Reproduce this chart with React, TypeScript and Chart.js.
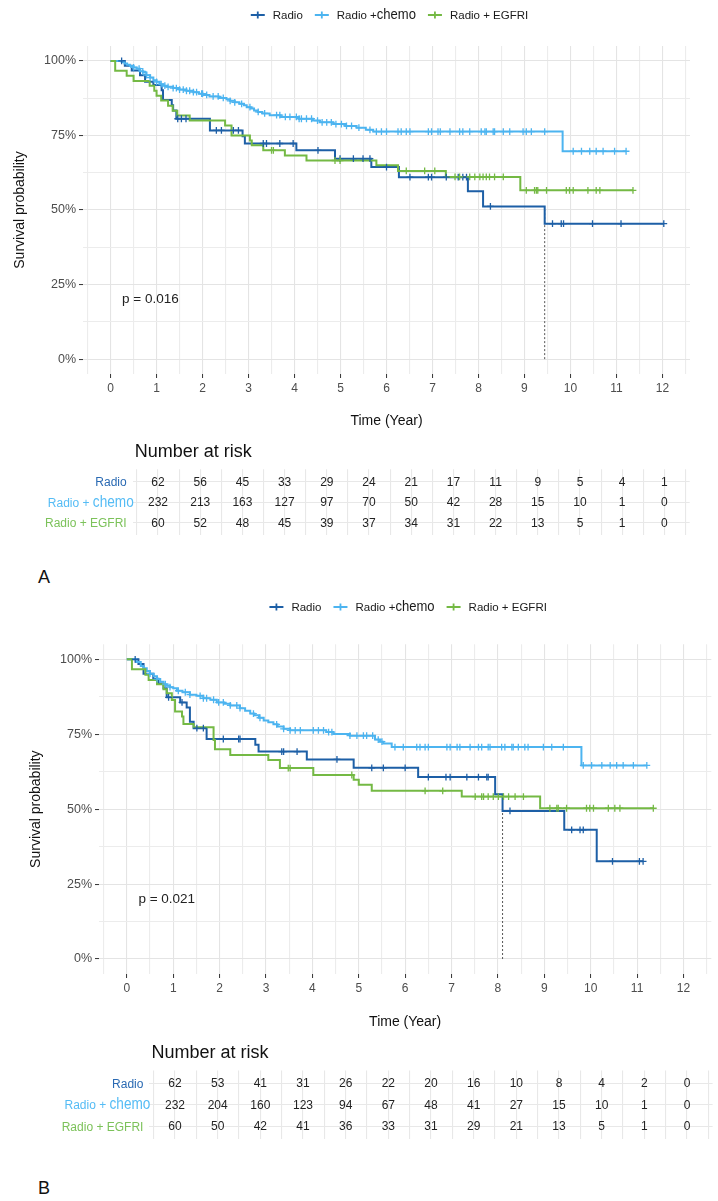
import React, { useEffect, useRef } from "react";
import { Chart, registerables } from "chart.js";
Chart.register(...registerables);

// ---------- shared labels / ticks ----------
const LEGEND_LABELS = ["Radio", "Radio +chemo", "Radio + EGFRI"];
const TABLE_LABELS = ["Radio", "Radio + chemo", "Radio + EGFRI"];
const LINE_COLORS = ["#1d5fa6", "#4cb4f0", "#74b944"];
const TEXT_COLORS = ["#2a6ab3", "#55bcf5", "#7cc25a"];
const YEAR_TICKS = [-0.5, 0, 0.5, 1, 1.5, 2, 2.5, 3, 3.5, 4, 4.5, 5, 5.5, 6, 6.5, 7, 7.5, 8, 8.5, 9, 9.5, 10, 10.5, 11, 11.5, 12, 12.5];
const SURV_TICKS = [0, 12.5, 25, 37.5, 50, 62.5, 75, 87.5, 100];
const RISK_TIMES = [0, 1, 2, 3, 4, 5, 6, 7, 8, 9, 10, 11, 12];
const ROW_INDEX = [0, 1, 2];

// ---------- panel A ----------
const A_RADIO_T = [0, 0.31, 0.46, 0.64, 0.75, 0.93, 1.11, 1.14, 1.33, 1.36, 1.43, 2.16, 2.87, 2.92, 4.04, 4.88, 5.67, 6.27, 7.77, 8.10, 9.44, 12.03];
const A_RADIO_S = [100, 98.4, 96.8, 95.2, 93.0, 91.9, 90.2, 86.9, 85.1, 83.4, 80.6, 76.7, 74.7, 72.3, 70.0, 67.2, 64.4, 61.0, 56.3, 51.2, 45.4, 45.4];
const A_RADIO_CENSOR = [0.24, 1.46, 1.54, 1.64, 2.30, 2.41, 2.67, 2.78, 3.32, 3.39, 3.68, 3.97, 4.51, 4.99, 5.28, 5.49, 5.64, 6.0, 6.51, 6.91, 6.98, 7.3, 7.56, 7.66, 7.74, 8.26, 9.61, 9.80, 9.85, 10.48, 11.1, 12.03];

const A_CHEMO_T = [0, 0.24, 0.3, 0.36, 0.42, 0.5, 0.57, 0.64, 0.71, 0.78, 0.86, 0.93, 1.0, 1.07, 1.14, 1.22, 1.36, 1.5, 1.65, 1.8, 1.92, 2.01, 2.15, 2.35, 2.52, 2.6, 2.7, 2.8, 2.9, 2.96, 3.05, 3.12, 3.2, 3.3, 3.46, 3.7, 4.1, 4.4, 4.55, 4.84, 5.1, 5.35, 5.55, 5.71, 9.83, 11.21];
const A_CHEMO_S = [100, 99.6, 99.1, 98.7, 98.3, 97.8, 97.4, 96.5, 96.1, 95.2, 94.4, 93.5, 93.0, 92.2, 91.7, 91.3, 90.9, 90.4, 90.0, 89.5, 89.0, 88.6, 88.1, 87.6, 87.1, 86.6, 86.1, 85.6, 85.1, 84.5, 84.0, 83.4, 82.9, 82.4, 81.8, 81.2, 80.6, 80.0, 79.4, 78.8, 78.2, 77.6, 76.9, 76.3, 69.7, 69.7];
const A_CHEMO_CENSOR = [0.5, 0.62, 0.7, 0.78, 0.86, 1.0, 1.1, 1.18, 1.25, 1.36, 1.43, 1.5, 1.58, 1.65, 1.72, 1.8, 1.87, 1.98, 2.0, 2.09, 2.23, 2.34, 2.45, 2.6, 2.7, 2.85, 3.03, 3.21, 3.35, 3.61, 3.68, 3.8, 3.9, 4.04, 4.1, 4.15, 4.26, 4.37, 4.5, 4.6, 4.70, 4.80, 4.9, 5.02, 5.13, 5.24, 5.4, 5.64, 5.78, 5.89, 6.0, 6.25, 6.32, 6.43, 6.51, 6.91, 6.98, 7.12, 7.17, 7.38, 7.59, 7.66, 7.81, 8.06, 8.14, 8.17, 8.32, 8.35, 8.54, 8.68, 8.97, 9.04, 9.15, 9.44, 10.06, 10.24, 10.42, 10.56, 10.71, 10.96, 11.21];

const A_EGFRI_T = [0, 0.1, 0.35, 0.5, 0.85, 0.95, 1.0, 1.1, 1.25, 1.35, 1.45, 1.72, 2.49, 2.63, 3.03, 3.07, 3.32, 3.79, 4.26, 5.78, 6.25, 7.29, 8.91, 11.36];
const A_EGFRI_S = [100, 96.7, 95.0, 93.3, 91.7, 90.0, 88.3, 86.7, 85.0, 83.3, 81.7, 80.0, 78.3, 75.0, 73.3, 71.7, 70.0, 68.3, 66.6, 65.0, 63.1, 61.1, 56.6, 56.6];
const A_EGFRI_CENSOR = [3.5, 3.54, 4.88, 4.99, 6.43, 6.83, 7.05, 7.49, 7.59, 7.81, 7.92, 8.03, 8.10, 8.17, 8.24, 8.35, 8.54, 9.04, 9.22, 9.26, 9.29, 9.48, 9.91, 9.98, 10.06, 10.38, 10.56, 10.64, 11.36];

const A_RISK_RADIO = [62, 56, 45, 33, 29, 24, 21, 17, 11, 9, 5, 4, 1];
const A_RISK_CHEMO = [232, 213, 163, 127, 97, 70, 50, 42, 28, 15, 10, 1, 0];
const A_RISK_EGFRI = [60, 52, 48, 45, 39, 37, 34, 31, 22, 13, 5, 1, 0];
const A_PVALUE = "p = 0.016";
const A_MEDIAN = 9.44;

// ---------- panel B ----------
const B_RADIO_T = [0, 0.25, 0.36, 0.57, 0.68, 0.79, 0.86, 1.15, 1.29, 1.36, 1.44, 1.72, 2.77, 2.84, 3.88, 4.89, 6.28, 7.94, 8.10, 9.43, 10.13, 11.13];
const B_RADIO_S = [100, 98.4, 95.2, 93.5, 91.9, 90.3, 87.3, 85.6, 83.9, 79.2, 77.0, 73.4, 71.5, 69.2, 66.6, 63.8, 60.7, 55.0, 49.4, 43.1, 32.6, 32.6];
const B_RADIO_CENSOR = [0.18, 0.9, 1.19, 1.51, 1.65, 2.08, 2.41, 2.44, 3.34, 3.38, 3.67, 4.53, 5.28, 5.53, 6.0, 6.5, 6.88, 6.97, 7.33, 7.58, 7.76, 7.79, 8.26, 9.59, 9.77, 9.84, 10.47, 11.05, 11.13];

const B_CHEMO_T = [0, 0.2, 0.3, 0.36, 0.43, 0.5, 0.58, 0.65, 0.72, 0.79, 0.86, 0.93, 1.0, 1.08, 1.2, 1.36, 1.5, 1.65, 1.8, 1.94, 2.1, 2.23, 2.44, 2.55, 2.66, 2.75, 2.85, 2.95, 3.05, 3.16, 3.25, 3.38, 3.52, 4.3, 4.45, 4.81, 5.35, 5.46, 5.53, 5.71, 9.80, 11.21];
const B_CHEMO_S = [100, 99.1, 97.8, 97.0, 96.1, 95.2, 94.3, 93.4, 92.5, 91.7, 91.2, 90.7, 90.3, 89.5, 89.0, 88.2, 87.8, 87.0, 86.5, 85.6, 85.2, 84.6, 83.7, 82.8, 81.9, 81.3, 80.5, 79.6, 79.0, 78.3, 77.6, 76.8, 76.3, 75.7, 75.1, 74.5, 73.2, 72.5, 71.9, 70.7, 64.6, 64.6];
const B_CHEMO_CENSOR = [0.5, 0.65, 0.83, 0.93, 1.11, 1.26, 1.36, 1.58, 1.65, 1.72, 1.87, 1.98, 2.08, 2.23, 2.37, 2.44, 2.73, 2.87, 3.23, 3.38, 3.52, 3.63, 3.74, 4.02, 4.13, 4.24, 4.35, 4.42, 4.81, 4.96, 5.10, 5.17, 5.3, 5.42, 5.5, 5.78, 5.96, 6.25, 6.32, 6.43, 6.5, 6.90, 6.97, 7.12, 7.18, 7.40, 7.58, 7.65, 7.79, 7.83, 8.08, 8.15, 8.30, 8.33, 8.44, 8.58, 8.65, 8.98, 9.16, 9.41, 9.84, 10.02, 10.24, 10.42, 10.56, 10.70, 10.92, 11.21];

const B_EGFRI_T = [0, 0.11, 0.40, 0.47, 0.65, 0.79, 0.86, 0.97, 1.04, 1.19, 1.22, 1.44, 1.87, 1.90, 2.23, 3.05, 3.30, 4.02, 4.89, 5.0, 5.28, 7.22, 8.91, 11.35];
const B_EGFRI_S = [100, 96.7, 94.8, 93.1, 91.7, 90.0, 88.7, 86.4, 82.6, 80.9, 78.4, 77.3, 73.1, 70.0, 68.1, 66.4, 63.7, 61.4, 59.8, 58.1, 56.1, 54.2, 50.3, 50.3];
const B_EGFRI_CENSOR = [3.48, 3.52, 4.85, 6.43, 6.81, 7.51, 7.65, 7.69, 7.79, 7.90, 8.01, 8.12, 8.23, 8.37, 8.55, 9.12, 9.27, 9.30, 9.48, 9.91, 9.98, 10.06, 10.38, 10.52, 10.63, 11.35];

const B_RISK_RADIO = [62, 53, 41, 31, 26, 22, 20, 16, 10, 8, 4, 2, 0];
const B_RISK_CHEMO = [232, 204, 160, 123, 94, 67, 48, 41, 27, 15, 10, 1, 0];
const B_RISK_EGFRI = [60, 50, 42, 41, 36, 33, 31, 29, 21, 13, 5, 1, 0];
const B_PVALUE = "p = 0.021";
const B_MEDIAN = 8.10;

// ---------- helpers ----------
const FONT = '"Liberation Sans", Arial, Helvetica, sans-serif';
const font = (size: number) => `${size}px ${FONT}`;

function survAt(T: number[], S: number[], t: number) {
  let v = S[0];
  for (let i = 0; i < T.length; i++) if (T[i] <= t) v = S[i];
  return v;
}

// the word "chemo" is set larger and narrower in the source figure
function labelParts(ctx: CanvasRenderingContext2D, label: string, size: number) {
  const parts = label.split(/(chemo)/).filter((p) => p.length > 0);
  return parts.map((t) => {
    const big = t === "chemo";
    const sz = big ? size * 1.32 : size;
    const sx = big ? 0.86 : 1;
    ctx.font = font(sz);
    return { t, sz, sx, w: ctx.measureText(t).width * sx };
  });
}
function drawLabel(ctx: CanvasRenderingContext2D, label: string, x: number, y: number, align: string, size: number, color: string) {
  const parts = labelParts(ctx, label, size);
  const total = parts.reduce((a, p) => a + p.w, 0);
  let cx = align === "right" ? x - total : x;
  ctx.fillStyle = color;
  ctx.textBaseline = "alphabetic";
  ctx.textAlign = "left";
  for (const p of parts) {
    ctx.save();
    ctx.font = font(p.sz);
    ctx.translate(cx, y + size * 0.36);
    ctx.scale(p.sx, 1);
    ctx.fillText(p.t, 0, 0);
    ctx.restore();
    cx += p.w;
  }
  return total;
}

type Curve = { t: number[]; s: number[]; c: number[] };
type KMSpec = {
  curves: Curve[];
  pval: string;
  median: number;
  pad: { top: number; right: number; bottom: number; left: number };
  yWidth: number;
  xHeight: number;
  xTitleBottom: number;
  legendY: number;
};

const isMajorYear = (v: number) => Math.abs(v - Math.round(v)) < 1e-6;
const isMajorSurv = (v: number) => Math.abs(v % 25) < 1e-6;
const GRID_MAJOR = "#e4e4e4";
const GRID_MINOR = "#ececec";

function kmConfig(spec: KMSpec): any {
  const datasets: any[] = [];
  spec.curves.forEach((cv, g) => {
    datasets.push({
      type: "line",
      label: LEGEND_LABELS[g],
      data: cv.t.map((t, i) => ({ x: t, y: cv.s[i] })),
      stepped: "before",
      borderColor: LINE_COLORS[g],
      borderWidth: 2,
      pointRadius: 0,
      fill: false,
      order: 10 - g,
    });
  });
  spec.curves.forEach((cv, g) => {
    datasets.push({
      type: "scatter",
      label: LEGEND_LABELS[g] + " censored",
      data: cv.c.map((t) => ({ x: t, y: survAt(cv.t, cv.s, t) })),
      pointStyle: "cross",
      pointRadius: 3.4,
      borderColor: LINE_COLORS[g],
      backgroundColor: LINE_COLORS[g],
      borderWidth: 1.3,
      showLine: false,
      order: 5 - g,
    });
  });
  datasets.push({
    type: "line",
    label: "median",
    data: [
      { x: spec.median, y: 0 },
      { x: spec.median, y: 50 },
    ],
    borderColor: "#555555",
    borderWidth: 1,
    borderDash: [2, 2],
    pointRadius: 0,
    fill: false,
    order: 20,
  });

  const extras = {
    id: "kmExtras",
    afterDraw(chart: any) {
      const ctx = chart.ctx as CanvasRenderingContext2D;
      const area = chart.chartArea;
      // legend
      const sym = 14, gapSym = 8, gapItem = 12, size = 11.5;
      const widths = LEGEND_LABELS.map((l) => labelParts(ctx, l, size).reduce((a, p) => a + p.w, 0));
      const total = widths.reduce((a, w) => a + sym + gapSym + w, 0) + gapItem * (widths.length - 1);
      let x = (area.left + area.right) / 2 + 3 - total / 2;
      const y = spec.legendY;
      LEGEND_LABELS.forEach((l, g) => {
        ctx.save();
        ctx.strokeStyle = LINE_COLORS[g];
        ctx.lineWidth = 1.8;
        ctx.beginPath();
        ctx.moveTo(x, y);
        ctx.lineTo(x + sym, y);
        ctx.moveTo(x + sym / 2, y - 3.5);
        ctx.lineTo(x + sym / 2, y + 3.5);
        ctx.stroke();
        ctx.restore();
        x += sym + gapSym;
        drawLabel(ctx, l, x, y, "left", size, "#1a1a1a");
        x += widths[g] + gapItem;
      });
      // p-value
      const px = chart.scales.x.getPixelForValue(0.25);
      const py = chart.scales.y.getPixelForValue(20);
      ctx.save();
      ctx.font = font(13.5);
      ctx.fillStyle = "#222222";
      ctx.textAlign = "left";
      ctx.textBaseline = "middle";
      ctx.fillText(spec.pval, px, py);
      ctx.restore();
    },
  };

  return {
    type: "line",
    data: { datasets },
    plugins: [extras],
    options: {
      animation: false,
      responsive: false,
      devicePixelRatio: 1,
      layout: { padding: spec.pad },
      plugins: { legend: { display: false }, tooltip: { enabled: false }, title: { display: false } },
      scales: {
        x: {
          type: "linear",
          min: -0.6,
          max: 12.6,
          afterBuildTicks: (s: any) => {
            s.ticks = YEAR_TICKS.map((v) => ({ value: v }));
          },
          afterFit: (s: any) => {
            s.height = spec.xHeight;
          },
          border: { display: false },
          grid: {
            color: (c: any) => (c.tick && isMajorYear(c.tick.value) ? GRID_MAJOR : GRID_MINOR),
            lineWidth: 1.1,
            drawTicks: true,
            tickLength: 4,
            tickWidth: 1,
            tickColor: (c: any) => (c.tick && isMajorYear(c.tick.value) ? "#333333" : "rgba(0,0,0,0)"),
          },
          ticks: {
            autoSkip: false,
            maxRotation: 0,
            padding: 3,
            color: "#4d4d4d",
            font: { family: FONT, size: 12 },
            callback: (v: any) => (isMajorYear(Number(v)) ? String(Math.round(Number(v))) : ""),
          },
          title: {
            display: true,
            text: "Time (Year)",
            color: "#111111",
            font: { family: FONT, size: 14 },
            padding: { top: 4, bottom: spec.xTitleBottom },
          },
        },
        y: {
          type: "linear",
          min: -5,
          max: 105,
          afterBuildTicks: (s: any) => {
            s.ticks = SURV_TICKS.map((v) => ({ value: v }));
          },
          afterFit: (s: any) => {
            s.width = spec.yWidth;
          },
          border: { display: false },
          grid: {
            color: (c: any) => (c.tick && isMajorSurv(c.tick.value) ? GRID_MAJOR : GRID_MINOR),
            lineWidth: 1.1,
            drawTicks: true,
            tickLength: 4,
            tickWidth: 1,
            tickColor: (c: any) => (c.tick && isMajorSurv(c.tick.value) ? "#333333" : "rgba(0,0,0,0)"),
          },
          ticks: {
            autoSkip: false,
            padding: 3,
            color: "#4d4d4d",
            font: { family: FONT, size: 12.5 },
            callback: (v: any) => (isMajorSurv(Number(v)) ? `${Math.round(Number(v))}%` : ""),
          },
          title: {
            display: true,
            text: "Survival probability",
            color: "#111111",
            font: { family: FONT, size: 14 },
            padding: { top: 4, bottom: 4 },
          },
        },
      },
    },
  };
}

type TableSpec = {
  rows: number[][];
  pad: { top: number; right: number; bottom: number; left: number };
  titleY: number;
};

function tableConfig(spec: TableSpec): any {
  const datasets = spec.rows.map((vals, r) => ({
    type: "scatter",
    label: TABLE_LABELS[r],
    data: RISK_TIMES.map((t, i) => ({ x: t, y: ROW_INDEX[r], v: vals[i] })),
    pointRadius: 0,
    showLine: false,
  }));
  const extras = {
    id: "riskText",
    afterDatasetsDraw(chart: any) {
      const ctx = chart.ctx as CanvasRenderingContext2D;
      const area = chart.chartArea;
      ctx.save();
      ctx.font = font(12);
      ctx.fillStyle = "#222222";
      ctx.textAlign = "center";
      ctx.textBaseline = "middle";
      chart.data.datasets.forEach((ds: any, r: number) => {
        const meta = chart.getDatasetMeta(r);
        meta.data.forEach((pt: any, i: number) => {
          ctx.fillText(String(ds.data[i].v), pt.x, pt.y + 0.5);
        });
      });
      ctx.restore();
      chart.data.datasets.forEach((ds: any, r: number) => {
        const y = chart.scales.y.getPixelForValue(ROW_INDEX[r]);
        const right = area.left - 6 + (ds.label.indexOf("chemo") >= 0 ? 7 : 0);
        drawLabel(ctx, ds.label, right, y, "right", 12, TEXT_COLORS[r]);
      });
      ctx.save();
      ctx.font = font(18);
      ctx.fillStyle = "#111111";
      ctx.textAlign = "left";
      ctx.textBaseline = "middle";
      ctx.fillText("Number at risk", area.left + 2, spec.titleY);
      ctx.restore();
    },
  };
  return {
    type: "scatter",
    data: { datasets },
    plugins: [extras],
    options: {
      animation: false,
      responsive: false,
      devicePixelRatio: 1,
      layout: { padding: spec.pad },
      plugins: { legend: { display: false }, tooltip: { enabled: false } },
      scales: {
        x: {
          type: "linear",
          min: -0.6,
          max: 12.6,
          afterBuildTicks: (s: any) => {
            s.ticks = YEAR_TICKS.map((v) => ({ value: v }));
          },
          afterFit: (s: any) => {
            s.height = 0;
          },
          border: { display: false },
          grid: { color: "#e8e8e8", lineWidth: 1.1, drawTicks: false },
          ticks: { display: false },
        },
        y: {
          type: "linear",
          min: -0.6,
          max: 2.6,
          reverse: true,
          afterBuildTicks: (s: any) => {
            s.ticks = ROW_INDEX.map((v) => ({ value: v }));
          },
          afterFit: (s: any) => {
            s.width = 0;
          },
          border: { display: false },
          grid: { color: "#e8e8e8", lineWidth: 1.1, drawTicks: false },
          ticks: { display: false },
        },
      },
    },
  };
}

function ChartCanvas({ config, top, height }: { config: any; top: number; height: number }) {
  const ref = useRef<HTMLCanvasElement>(null);
  useEffect(() => {
    const chart = new Chart(ref.current as HTMLCanvasElement, config);
    return () => chart.destroy();
  }, []);
  return (
    <canvas
      ref={ref}
      width={718}
      height={height}
      style={{ position: "absolute", left: 0, top, width: 718, height, display: "block" }}
    />
  );
}

const KM_A: KMSpec = {
  curves: [
    { t: A_RADIO_T, s: A_RADIO_S, c: A_RADIO_CENSOR },
    { t: A_CHEMO_T, s: A_CHEMO_S, c: A_CHEMO_CENSOR },
    { t: A_EGFRI_T, s: A_EGFRI_S, c: A_EGFRI_CENSOR },
  ],
  pval: A_PVALUE,
  median: A_MEDIAN,
  pad: { top: 46, right: 28, bottom: 0, left: 8 },
  yWidth: 75,
  xHeight: 66,
  xTitleBottom: 10.6,
  legendY: 15,
};
const KM_B: KMSpec = {
  curves: [
    { t: B_RADIO_T, s: B_RADIO_S, c: B_RADIO_CENSOR },
    { t: B_CHEMO_T, s: B_CHEMO_S, c: B_CHEMO_CENSOR },
    { t: B_EGFRI_T, s: B_EGFRI_S, c: B_EGFRI_CENSOR },
  ],
  pval: B_PVALUE,
  median: B_MEDIAN,
  pad: { top: 54.3, right: 6.7, bottom: 0, left: 24 },
  yWidth: 75,
  xHeight: 66,
  xTitleBottom: 9.6,
  legendY: 17,
};
const TABLE_A: TableSpec = {
  rows: [A_RISK_RADIO, A_RISK_CHEMO, A_RISK_EGFRI],
  pad: { top: 29.3, right: 28.3, bottom: 14.6, left: 132.7 },
  titleY: 12,
};
const TABLE_B: TableSpec = {
  rows: [B_RISK_RADIO, B_RISK_CHEMO, B_RISK_EGFRI],
  pad: { top: 30.6, right: 5.4, bottom: 10.6, left: 149.4 },
  titleY: 13,
};

export default function App() {
  const letter: React.CSSProperties = {
    position: "absolute",
    fontFamily: FONT,
    fontSize: 18,
    color: "#111",
    lineHeight: "20px",
  };
  return (
    <div style={{ position: "absolute", left: 0, top: 0, width: 718, height: 1201, background: "#ffffff", overflow: "hidden" }}>
      <ChartCanvas config={kmConfig(KM_A)} top={0} height={440} />
      <ChartCanvas config={tableConfig(TABLE_A)} top={440} height={110} />
      <div style={{ ...letter, left: 38, top: 567 }}>A</div>
      <ChartCanvas config={kmConfig(KM_B)} top={590} height={450} />
      <ChartCanvas config={tableConfig(TABLE_B)} top={1040} height={110} />
      <div style={{ ...letter, left: 38, top: 1178 }}>B</div>
    </div>
  );
}
